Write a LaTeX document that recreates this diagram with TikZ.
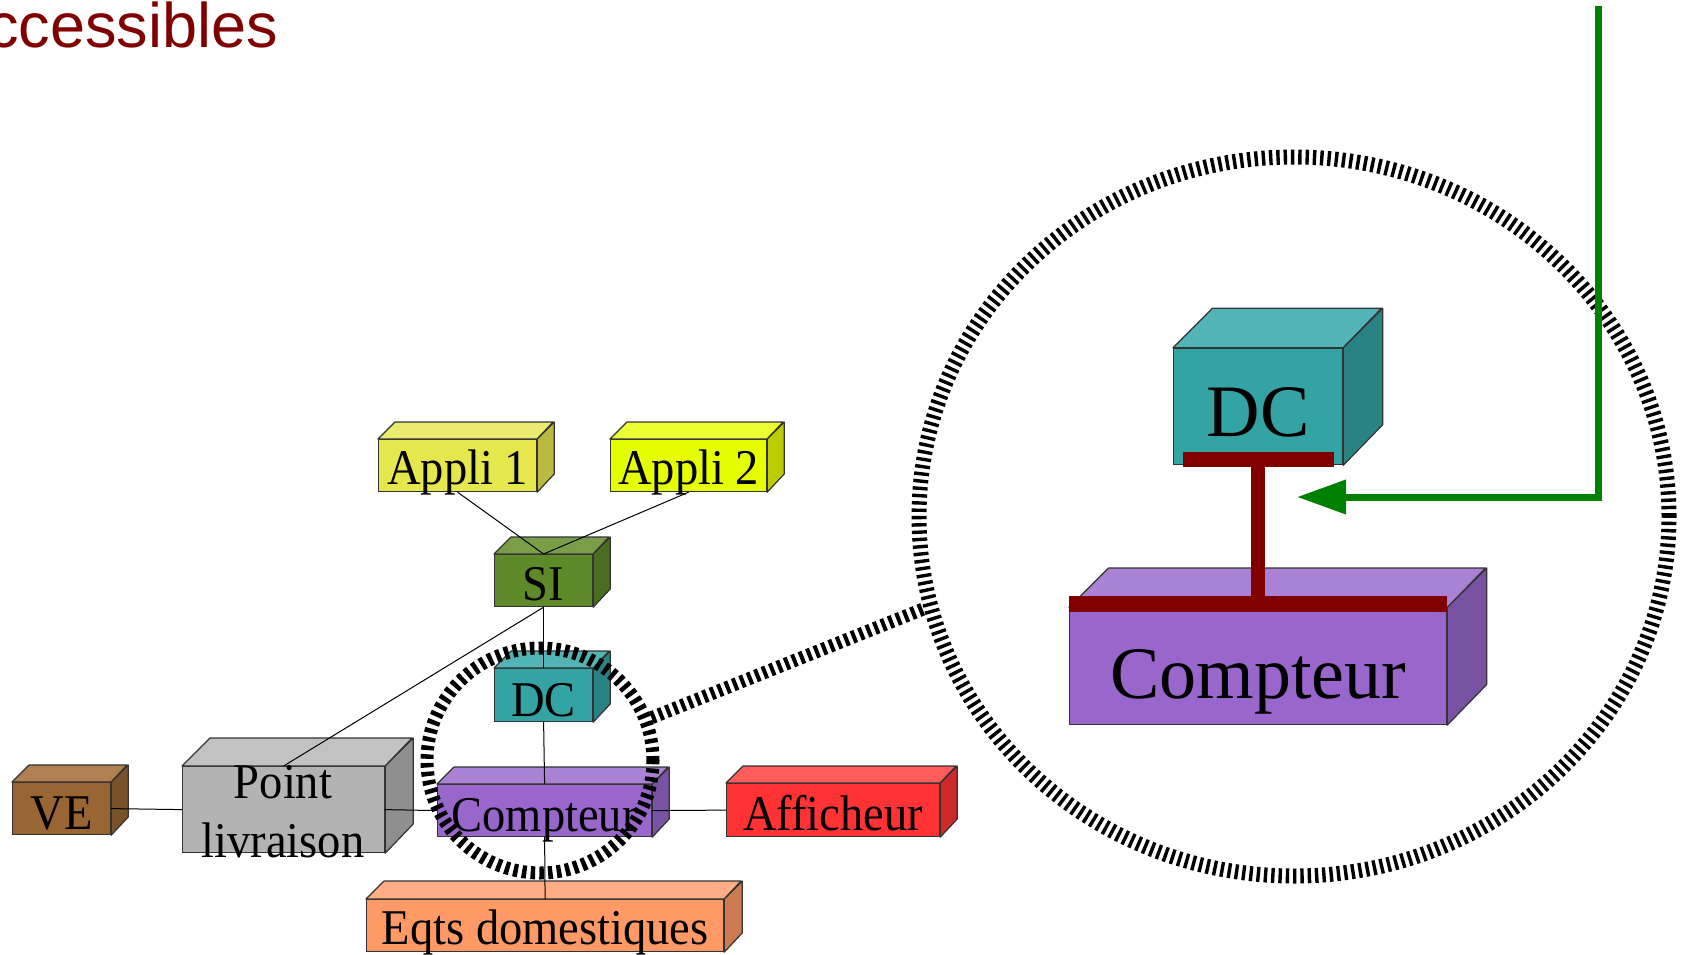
\documentclass[tikz,border=0pt]{standalone}
\usepackage{fontspec}
\setmainfont[Ligatures=CommonOff]{Liberation Serif}
\newfontfamily\headfont{Liberation Sans}
\usetikzlibrary{calc,arrows.meta,shapes.geometric}

% face colours of the boxes: <stem>front, <stem>top, <stem>side
\definecolor{apAfront}{HTML}{E6E64D}\definecolor{apAtop}{HTML}{EBEB70}\definecolor{apAside}{HTML}{BABA3E}
\definecolor{apBfront}{HTML}{E6FF00}\definecolor{apBtop}{HTML}{EBFF33}\definecolor{apBside}{HTML}{BBCC00}
\definecolor{sifront}{HTML}{5E8A29}\definecolor{sitop}{HTML}{7A9E47}\definecolor{siside}{HTML}{4A6E21}
\definecolor{dcfront}{HTML}{33A3A3}\definecolor{dctop}{HTML}{52B4B4}\definecolor{dcside}{HTML}{298383}
\definecolor{cptfront}{HTML}{9966CC}\definecolor{cpttop}{HTML}{AA82D5}\definecolor{cptside}{HTML}{7A52A3}
\definecolor{vefront}{HTML}{996633}\definecolor{vetop}{HTML}{B08052}\definecolor{veside}{HTML}{7A5229}
\definecolor{plfront}{HTML}{B3B3B3}\definecolor{pltop}{HTML}{C2C2C2}\definecolor{plside}{HTML}{8F8F8F}
\definecolor{afffront}{HTML}{FF3333}\definecolor{afftop}{HTML}{FF5C5C}\definecolor{affside}{HTML}{CC2929}
\definecolor{eqfront}{HTML}{FF9966}\definecolor{eqtop}{HTML}{FFAD85}\definecolor{eqside}{HTML}{CC7A52}
\definecolor{busred}{HTML}{800000}
\definecolor{linkgreen}{HTML}{008000}

% a box in cavalier perspective: name, left, top, width, height, depth, colour stem
\newcommand{\cuboid}[7]{%
  \node[face, fill=#7front, minimum width=#4, minimum height=#5, anchor=north west] (#1) at (#2,#3) {};
  \filldraw[edge, fill=#7top] (#1.north west) -- ++(#6,-#6) -- ++(#4,0) -- (#1.north east) -- cycle;
  \filldraw[edge, fill=#7side] (#1.north east) -- ++(#6,-#6) -- ++(0,#5) -- (#1.south east) -- cycle;
}
% slightly narrowed lettering of the box labels
\newcommand{\narrow}[1]{\scalebox{0.93}[1]{#1}}

\begin{document}
\begin{tikzpicture}[x=1pt, y=-1pt,
  face/.style={rectangle, draw=black!80, line width=1.2pt, inner sep=0pt},
  edge/.style={draw=black!80, line width=1.2pt, line join=round},
  lbl/.style={inner sep=0pt, font=\fontsize{50}{59}\selectfont},
  biglbl/.style={inner sep=0pt, font=\fontsize{74}{80}\selectfont},
  wire/.style={draw=black, line width=1pt},
  bus/.style={draw=busred, line width=15pt},
  zoomring/.style={ellipse, inner sep=0pt, draw=black},
  title/.style={inner sep=0pt, text=busred, font=\headfont\fontsize{63}{70}\selectfont}]
\useasboundingbox (0,0) rectangle (1690,954);

% heading, partly outside the page
\node[title, anchor=base east] (title) at (278,47) {ccessibles};

% ---- network overview ----
\cuboid{appA}{378}{439}{158}{52}{17}{apA}
\cuboid{appB}{610}{439}{156}{52}{17}{apB}
\cuboid{si}{494}{554}{98}{52}{17}{si}
\cuboid{dc}{494}{668}{98}{53}{17}{dc}
\cuboid{cpt}{437}{784}{214}{52}{17}{cpt}
\cuboid{ve}{12}{782}{98}{52}{17}{ve}
\cuboid{pl}{182}{766}{202}{86}{28}{pl}
\cuboid{aff}{726}{783}{213}{53}{17}{aff}
\cuboid{eq}{366}{899}{357}{52}{18}{eq}

% links between the equipments
\draw[wire] (appA.south) -- (si.north);
\draw[wire] (appB.south) -- (si.north);
\draw[wire] (si.south) -- (dc.north);
\draw[wire] (si.south) -- (pl.north);
\draw[wire] (dc.south) -- (cpt.north);
\draw[wire] (cpt.south) -- (eq.north);
\draw[wire] (ve.east) -- (pl.west);
\draw[wire] (pl.east) -- (cpt.west);
\draw[wire] (cpt.east) -- (aff.west);

% labels
\node[lbl, anchor=base] (appA-t) at ($(appA.south)+(0,-8)$) {\narrow{Appli 1}};
\node[lbl, anchor=base] (appB-t) at ($(appB.south)+(0,-8)$) {\narrow{Appli 2}};
\node[lbl, anchor=base] (si-t) at ($(si.south)+(0,-7)$) {\narrow{SI}};
\node[lbl, anchor=base] (dc-t) at ($(dc.south)+(0,-6)$) {\narrow{DC}};
\node[lbl, anchor=base] (cpt-t) at ($(cpt.south)+(0,-6)$) {\narrow{Compteur}};
\node[lbl, anchor=base] (ve-t) at ($(ve.south)+(0,-6)$) {\narrow{VE}};
\node[lbl, align=center] (pl-t) at (283,812) {\narrow{Point}\\\narrow{livraison}};
\node[lbl, anchor=base] (aff-t) at ($(aff.south)+(0,-7)$) {\narrow{Afficheur}};
\node[lbl, anchor=base] (eq-t) at ($(eq.south)+(0,-8)$) {\narrow{Eqts domestiques}};

% ---- enlarged view ----
\cuboid{bigdc}{1173}{347.7}{169}{116.5}{39.5}{dc}
\cuboid{bigcpt}{1069}{607.5}{377}{116.5}{39.5}{cpt}
\node[biglbl, anchor=base] (bigdc-t) at ($(bigdc.south)+(0,-29)$) {DC};
\node[biglbl, anchor=base] (bigcpt-t) at ($(bigcpt.south)+(0,-27)$) {Compteur};

% interface bars and the link between them
\coordinate (dcbarL) at (1183,459.5);
\coordinate (dcbarR) at (1334,459.5);
\coordinate (dcbarM) at (1258,459.5);
\coordinate (cptbarM) at (1258,611);
\draw[bus, line width=14pt] (dcbarM) -- (cptbarM);
\draw[bus] (dcbarL) -- (dcbarR);
\draw[bus, line width=16pt] ($(bigcpt.north west)+(0,-3.5)$) -- ($(bigcpt.north east)+(0,-3.5)$);

% zoom rings
\node[zoomring, minimum width=226pt, minimum height=225pt, line width=13pt,
      dash pattern=on 4.5pt off 4.2pt] (ringS) at (540,760.5) {};
\node[zoomring, minimum width=750pt, minimum height=719pt, line width=15pt,
      dash pattern=on 3.4pt off 3.9pt] (ringB) at (1294,516.5) {};
\draw[line width=13pt, dash pattern=on 4pt off 4pt] (ringS.21) -- (ringB.194);

% access arrow
\coordinate (gtop) at (1598.5,6);
\coordinate (gbend) at (1598.5,497);
\coordinate (gtip) at (1297,497);
\draw[linkgreen, line width=7pt, -{Triangle[length=49pt,width=33pt]}] (gtop) -- (gbend) -- (gtip);
\end{tikzpicture}
\end{document}
